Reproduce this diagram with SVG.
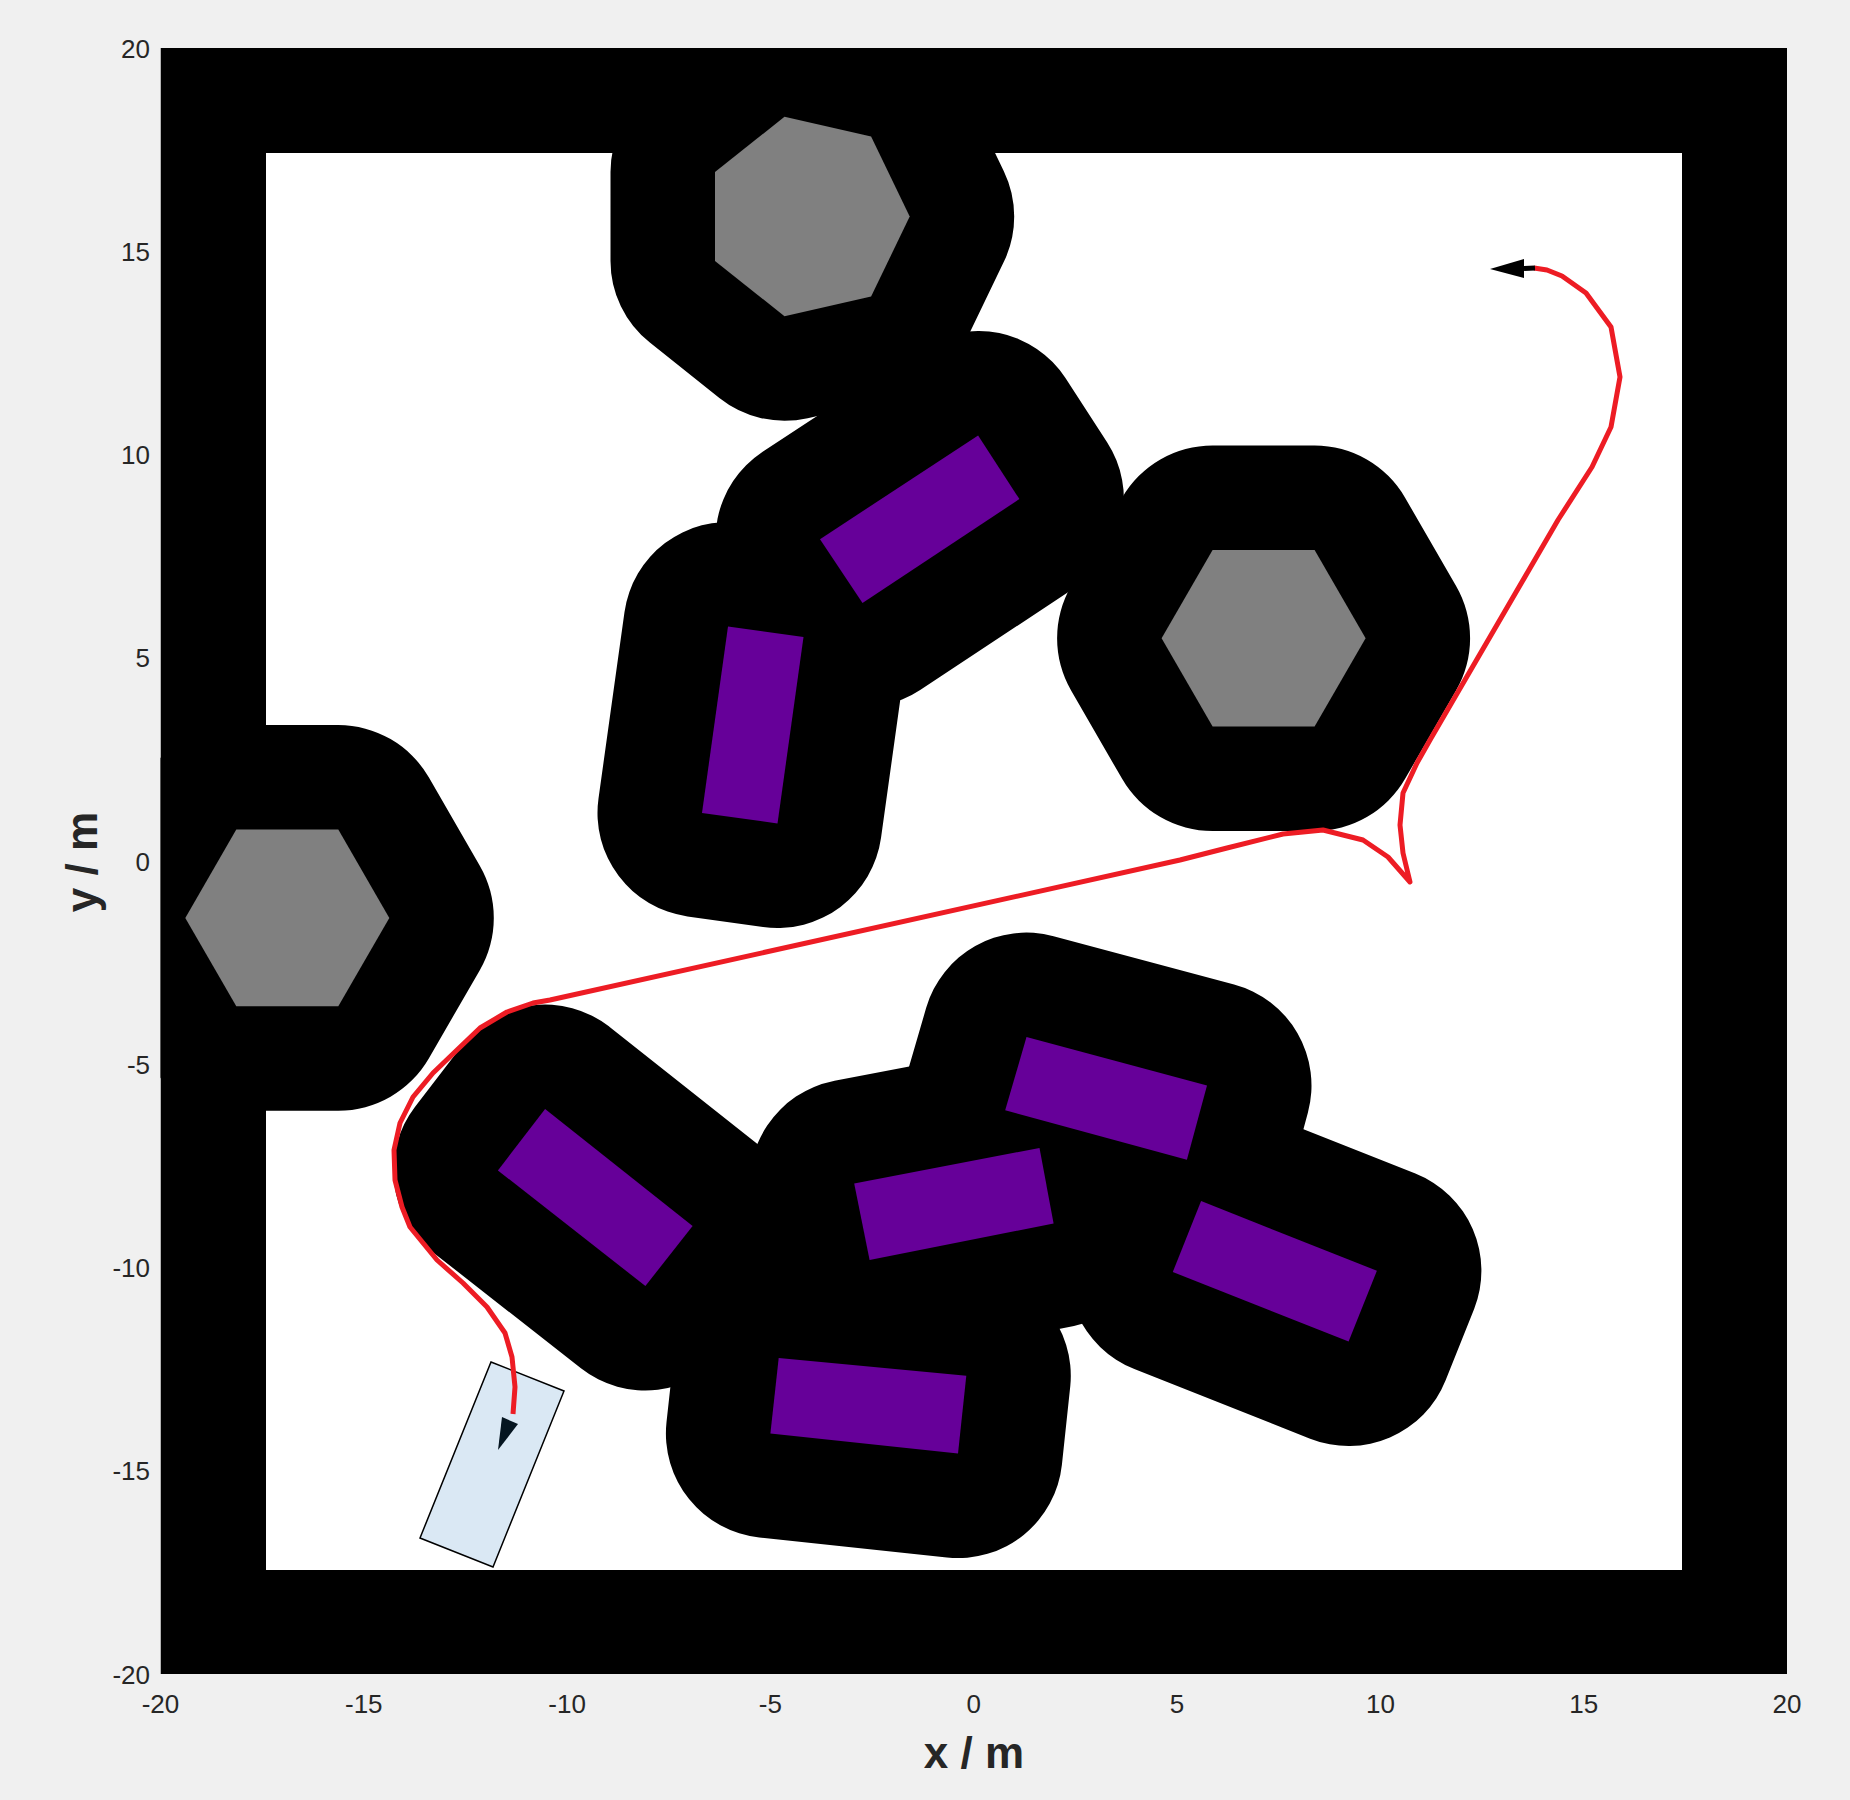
<svg xmlns="http://www.w3.org/2000/svg" width="1850" height="1800" viewBox="0 0 1850 1800">
<defs>
<style>
.infl{fill:#000;stroke:#000;stroke-width:209;stroke-linejoin:round}
.hex{fill:#808080}
.box{fill:#660099}
.tick{font-family:"Liberation Sans",Arial,sans-serif;font-size:26px;fill:#262626}
.xt{text-anchor:middle}
.yt{text-anchor:end}
.lab{font-family:"Liberation Sans",Arial,sans-serif;font-size:44px;font-weight:bold;fill:#262626;text-anchor:middle}
</style>
<clipPath id="ax"><rect x="160.5" y="48" width="1626.5" height="1626"/></clipPath>
</defs>
<rect x="0" y="0" width="1850" height="1800" fill="#f0f0f0"/>
<g clip-path="url(#ax)">
<g id="walls">
<rect x="160.5" y="48" width="1626.5" height="1626" fill="#000"/>
<rect x="266" y="153" width="1416" height="1417" fill="#fff"/>
</g>
<g id="inflated">
<polygon class="infl" points="909.7,216.5 871.1,136.4 784.5,116.7 715,172.1 715,260.9 784.5,316.3 871.1,296.6"/>
<polygon class="infl" points="1365.6,638.3 1314.6,550 1212.6,550 1161.6,638.3 1212.6,726.6 1314.6,726.6"/>
<polygon class="infl" points="389.3,917.9 338.3,829.6 236.3,829.6 185.3,917.9 236.3,1006.2 338.3,1006.2"/>
<polygon class="infl" points="978.1,435.4 1019.4,499.1 862.5,602.9 820,539.2"/>
<polygon class="infl" points="728,626.5 803.5,637.1 777.5,823.5 702,812.9"/>
<polygon class="infl" points="545.1,1109.1 692.6,1225.9 645.4,1286 497.9,1170.4"/>
<polygon class="infl" points="854.2,1183.4 1039.5,1148 1053.6,1223.5 869.6,1260.1"/>
<polygon class="infl" points="1026.5,1037.1 1207,1085.5 1186.9,1159.8 1005.2,1110.2"/>
<polygon class="infl" points="1201.1,1201.1 1376.9,1270.7 1348.6,1341.5 1172.8,1271.9"/>
<polygon class="infl" points="778.7,1358 966.3,1375.7 958,1453.6 770.4,1433.5"/>
</g>
</g>
<g id="obstacles">
<polygon id="hept1" class="hex" points="909.7,216.5 871.1,136.4 784.5,116.7 715,172.1 715,260.9 784.5,316.3 871.1,296.6"/>
<polygon id="hex2" class="hex" points="1365.6,638.3 1314.6,550 1212.6,550 1161.6,638.3 1212.6,726.6 1314.6,726.6"/>
<polygon id="hex3" class="hex" points="389.3,917.9 338.3,829.6 236.3,829.6 185.3,917.9 236.3,1006.2 338.3,1006.2"/>
<polygon id="box1" class="box" points="978.1,435.4 1019.4,499.1 862.5,602.9 820,539.2"/>
<polygon id="box2" class="box" points="728,626.5 803.5,637.1 777.5,823.5 702,812.9"/>
<polygon id="box3" class="box" points="545.1,1109.1 692.6,1225.9 645.4,1286 497.9,1170.4"/>
<polygon id="box4" class="box" points="854.2,1183.4 1039.5,1148 1053.6,1223.5 869.6,1260.1"/>
<polygon id="box5" class="box" points="1026.5,1037.1 1207,1085.5 1186.9,1159.8 1005.2,1110.2"/>
<polygon id="box6" class="box" points="1201.1,1201.1 1376.9,1270.7 1348.6,1341.5 1172.8,1271.9"/>
<polygon id="box7" class="box" points="778.7,1358 966.3,1375.7 958,1453.6 770.4,1433.5"/>
</g>
<g id="vehicle">
<polygon points="491,1362 564,1391 493,1567 420,1538" fill="#dae8f4" stroke="#000" stroke-width="1.5" stroke-linejoin="miter"/>
</g>
<g id="path">
<polyline fill="none" stroke="#ed1c24" stroke-width="5" stroke-linejoin="round" points="1534,268 1547,270 1562,276 1586,293 1611,327 1620,377 1611,427 1592,467 1558,520 1430,740 1417,763 1403,793 1400,825 1403,853 1410,882 1388,857 1363,840 1323,830 1283,834 1227,848 1180,860 550,1000 533,1003 507,1012 480,1028 457,1050 433,1073 413,1097 400,1123 394,1150 395,1180 402,1207 410,1227 437,1260 463,1283 487,1307 505,1333 512,1357 515,1387 513,1414"/>
<line x1="1524" y1="268.5" x2="1535" y2="268" stroke="#000" stroke-width="5"/>
<polygon points="1490,269 1524,259 1524,278" fill="#000"/>
<polygon points="498,1450 502,1417 518,1424" fill="#051520"/>
</g>
<g id="ticks">
<text class="tick xt" x="160.5" y="1713">-20</text>
<text class="tick xt" x="363.8" y="1713">-15</text>
<text class="tick xt" x="567.1" y="1713">-10</text>
<text class="tick xt" x="770.4" y="1713">-5</text>
<text class="tick xt" x="973.8" y="1713">0</text>
<text class="tick xt" x="1177.1" y="1713">5</text>
<text class="tick xt" x="1380.4" y="1713">10</text>
<text class="tick xt" x="1583.7" y="1713">15</text>
<text class="tick xt" x="1787" y="1713">20</text>
<text class="tick yt" x="150" y="57.5">20</text>
<text class="tick yt" x="150" y="260.8">15</text>
<text class="tick yt" x="150" y="464">10</text>
<text class="tick yt" x="150" y="667.3">5</text>
<text class="tick yt" x="150" y="870.5">0</text>
<text class="tick yt" x="150" y="1073.8">-5</text>
<text class="tick yt" x="150" y="1277">-10</text>
<text class="tick yt" x="150" y="1480.3">-15</text>
<text class="tick yt" x="150" y="1683.5">-20</text>
<text class="lab" x="974" y="1768">x / m</text>
<text class="lab" transform="translate(97,862) rotate(-90)">y / m</text>
</g>
</svg>
